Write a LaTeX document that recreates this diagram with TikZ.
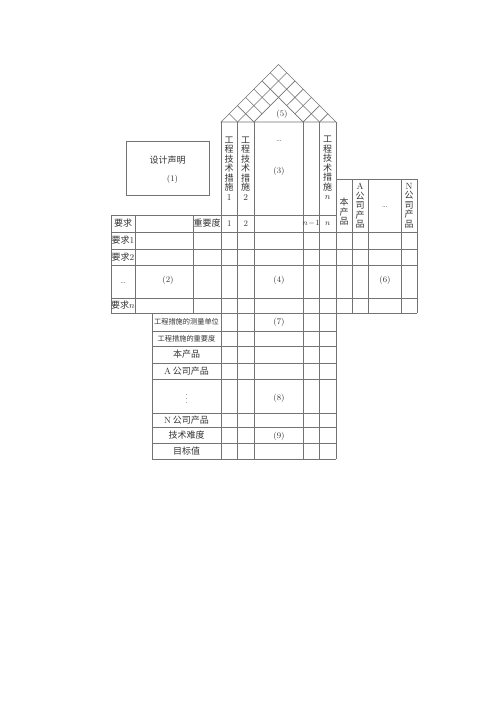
\documentclass[tikz,border=0pt]{standalone}
\usepackage{fontspec}
\newfontfamily\cjk{Noto Sans CJK SC}

\tikzset{
  qline/.style={draw=black!55, line width=0.6pt},
  lbl/.style={inner sep=0pt, text=black!80, font=\cjk\fontsize{9}{9.5}\selectfont},
  vlbl/.style={lbl, align=center},
  tinylbl/.style={inner sep=0pt, text=black!80, font=\cjk\fontsize{7.2}{8}\selectfont},
  num/.style={inner sep=0pt, text=black!80, font=\fontsize{8.5}{9}\selectfont}
}

\begin{document}
\begin{tikzpicture}[x=1pt, y=-1pt]
  \path[fill=white] (0,0) rectangle (500,707);
  \useasboundingbox (0,0) rectangle (500,707);
  \coordinate (RoofL) at (221,122);
  \coordinate (RoofR) at (336,122);
  \coordinate (RoofT) at (278.5,64.5);
  \draw[qline] (RoofL) -- (RoofT) -- (RoofR) -- cycle;
  \foreach \k in {1,2,5,6}{
    \pgfmathsetmacro\b{221+115*\k/7}
    \draw[qline] (\b,122) -- ({(\b+336)/2},{122-(336-\b)/2});
    \draw[qline] (\b,122) -- ({(\b+221)/2},{122-(\b-221)/2});
  }
  \draw[qline] (286.7,105.6) -- (303.2,89.2);
  \draw[qline] (294.9,113.8) -- (311.4,97.4);
  \draw[qline] (262.1,113.8) -- (245.7,97.4);
  \draw[qline] (270.3,105.6) -- (253.9,89.2);
  \node[num] (RoofNum) at (282,114) {(5)};

  \foreach \x in {221,237.5,254,303,319.5,336} \draw[qline] (\x,122) -- (\x,459);
  \foreach \x in {111,135,193} \draw[qline] (\x,215) -- (\x,313);
  \draw[qline] (111,215) -- (336,215);
  \foreach \y in {232,249,265,298,313} \draw[qline] (111,\y) -- (417,\y);
  \draw[qline] (336,179) -- (417,179);
  \foreach \x in {352,368,401,417} \draw[qline] (\x,179) -- (\x,313);
  \draw[qline] (152,313) -- (152,459);
  \foreach \y in {331,346,363,379,413,427,443,459} \draw[qline] (152,\y) -- (336,\y);

  \node[qline, minimum width=83pt, minimum height=54pt] (DesignBox) at (167.5,168) {};
  \node[lbl] (DesignText) at (167.5,160) {设计声明};
  \node[num] (DesignNum) at (172.5,179) {(1)};

  \node[vlbl] (TechOne) at (229.2,168.7) {工\\程\\技\\术\\措\\施\\{\rmfamily 1}};
  \node[vlbl] (TechTwo) at (245.7,168.7) {工\\程\\技\\术\\措\\施\\{\rmfamily 2}};
  \node[num] (TechDots) at (279,141) {\ldots};
  \node[num] (TechNum) at (279,171.7) {(3)};
  \node[vlbl] (TechN) at (327.7,168) {工\\程\\技\\术\\措\\施\\$n$};

  \node[vlbl] (OwnProd) at (344,211.7) {本\\产\\品};
  \node[vlbl] (ProdA) at (360,205.7) {{\rmfamily A}\\公\\司\\产\\品};
  \node[num] (ProdDots) at (384.7,206.7) {\ldots};
  \node[vlbl] (ProdN) at (409,205.7) {{\rmfamily N}\\公\\司\\产\\品};

  \node[lbl] (ReqHead) at (123,223.5) {要求};
  \node[lbl] (Weight) at (207,223.5) {重要度};
  \node[num] (ColOne) at (229.2,223.5) {1};
  \node[num] (ColTwo) at (245.7,223.5) {2};
  \node[num] (ColPrev) at (311.2,223.5) {$n\!-\!1$};
  \node[num] (ColN) at (327.7,223.5) {$n$};

  \node[lbl] (ReqOne) at (123,240.5) {要求{\rmfamily 1}};
  \node[lbl] (ReqTwo) at (123,257) {要求{\rmfamily 2}};
  \node[num] (ReqDots) at (123,283) {\ldots};
  \node[lbl] (ReqN) at (123,305.5) {要求$n$};
  \node[num] (ReqNum) at (168,280) {(2)};
  \node[num] (RelNum) at (279,280) {(4)};
  \node[num] (CompNum) at (385,280) {(6)};

  \node[tinylbl] (Unit) at (186.5,322) {工程措施的测量单位};
  \node[tinylbl] (TechWeight) at (186.5,338.5) {工程措施的重要度};
  \node[lbl] (LowOwn) at (186.5,354.5) {本产品};
  \node[lbl] (LowA) at (186.5,371) {{\rmfamily A} 公司产品};
  \node[num] (LowDots) at (186.5,396) {$\vdots$};
  \node[lbl] (LowN) at (186.5,420) {{\rmfamily N} 公司产品};
  \node[lbl] (Difficulty) at (186.5,435) {技术难度};
  \node[lbl] (Target) at (186.5,451) {目标值};
  \node[num] (UnitNum) at (279,322) {(7)};
  \node[num] (BenchNum) at (279,398) {(8)};
  \node[num] (DiffNum) at (279,436) {(9)};
\end{tikzpicture}
\end{document}
